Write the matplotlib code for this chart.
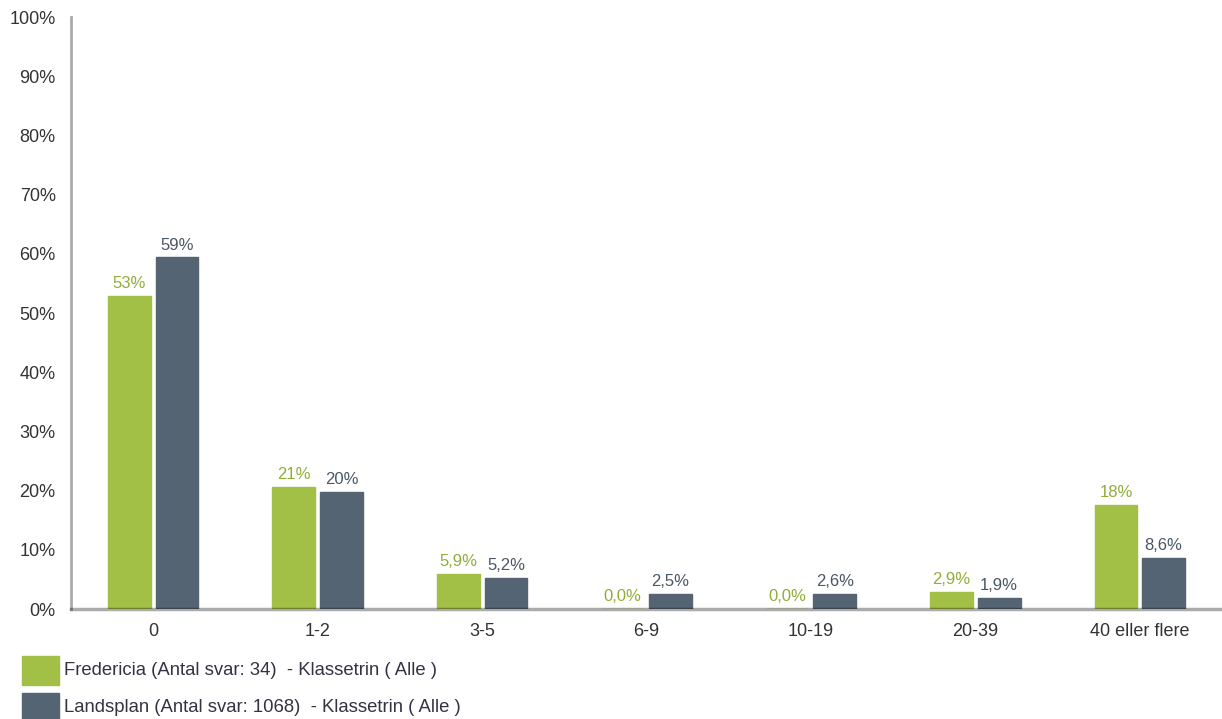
import matplotlib
matplotlib.use('Agg')
from matplotlib import pyplot as plt
from matplotlib.patches import Rectangle
import numpy as np

plt.rcParams['font.family'] = ['Liberation Sans', 'DejaVu Sans']

categories = ['0', '1-2', '3-5', '6-9', '10-19', '20-39', '40 eller flere']
fredericia = [52.9, 20.6, 5.9, 0.0, 0.0, 2.9, 17.6]
landsplan = [59.4, 19.8, 5.2, 2.5, 2.6, 1.9, 8.6]
series_names = ['Fredericia (Antal svar: 34)  - Klassetrin ( Alle )',
                'Landsplan (Antal svar: 1068)  - Klassetrin ( Alle )']

green = '#a2c045'
slate = '#556472'
green_txt = '#8fae3a'
slate_txt = '#4a5766'

W, H = 1222, 719
fig = plt.figure(figsize=(W/100, H/100), dpi=100)
ax = fig.add_axes([71/W, (H-609)/H, (W-71)/W, (609-17)/H])

x = np.arange(len(categories))
width = 0.26
off = 0.145


def fmt(v):
    if v >= 9.95:
        return '%d%%' % round(v)
    return ('%.1f%%' % v).replace('.', ',')


b1 = ax.bar(x - off, fredericia, width, color=green, edgecolor=green, lw=1, zorder=2)
b2 = ax.bar(x + off, landsplan, width, color=slate, edgecolor=slate, lw=1, zorder=2)
for bars, vals, c in [(b1, fredericia, green_txt), (b2, landsplan, slate_txt)]:
    for r, v in zip(bars, vals):
        ax.text(r.get_x() + r.get_width()/2, v + 0.8, fmt(v), ha='center', va='bottom',
                fontsize=12, color=c)

ax.set_xlim(-0.5, len(categories) - 0.5)
ax.set_ylim(0, 100)
ax.set_yticks(range(0, 101, 10))
ax.set_yticklabels(['%d%%' % t for t in range(0, 101, 10)])
ax.set_xticks(x)
ax.set_xticklabels(categories)
ax.tick_params(axis='both', length=0, labelsize=13, colors='#333333')
ax.tick_params(axis='y', pad=11)
ax.tick_params(axis='x', pad=10)

for s in ['top', 'right', 'bottom']:
    ax.spines[s].set_visible(False)
ax.spines['left'].set_color('#aaaaaa')
ax.spines['left'].set_linewidth(2)
ax.axhline(0, color='black', alpha=0.33, lw=2.5, zorder=3, clip_on=False)

# legend
for i, (name, c) in enumerate(zip(series_names, [green, slate])):
    y0 = 656 + i * 37
    fig.add_artist(Rectangle((22/W, (H - y0 - 29)/H), 37/W, 29/H,
                             transform=fig.transFigure, color=c))
    fig.text(64/W, (H - y0 - 14.5)/H, name, va='center', ha='left',
             fontsize=13.3, color='#333344')

fig.savefig('out.png', dpi=100)
